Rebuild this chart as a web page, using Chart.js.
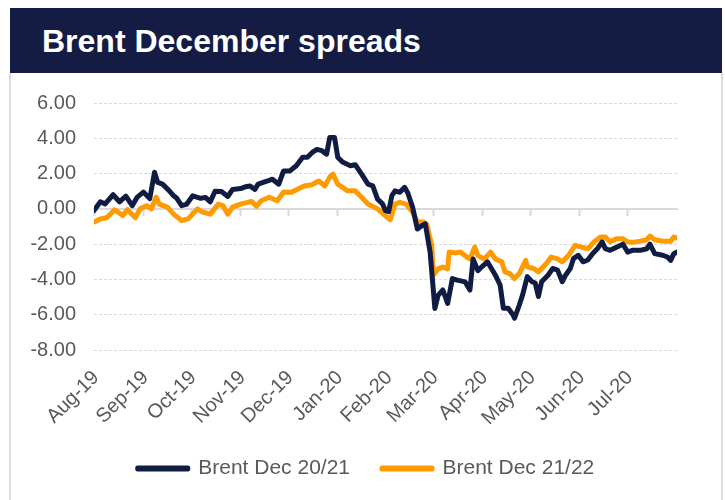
<!DOCTYPE html>
<html><head><meta charset="utf-8">
<script src="https://cdn.jsdelivr.net/npm/chart.js@4"></script>
<style>
body{margin:0;background:#fff;width:725px;height:500px;overflow:hidden;font-family:'Liberation Sans',Arial,sans-serif;}
#title{position:absolute;left:10px;top:8px;width:712px;height:65px;background:#141c44;color:#fff;font-weight:bold;font-size:32px;line-height:66px;box-sizing:border-box;padding-left:32px;}
#frame{position:absolute;left:9px;top:73px;width:714px;height:440px;border:2px solid #dcdcdc;border-top:none;box-sizing:border-box;}
#wrap{position:absolute;left:10px;top:73px;width:712px;height:427px;}
</style></head><body>
<div id="title">Brent December spreads</div>
<div id="frame"></div>
<div id="wrap"><canvas id="c" width="712" height="427"></canvas></div>
<script>
// Days counted from 1 Aug 2019
const monthStartDays = [0, 31, 61, 92, 122, 153, 184, 213, 244, 274, 305, 335];
const monthLabels = ['Aug-19','Sep-19','Oct-19','Nov-19','Dec-19','Jan-20','Feb-20','Mar-20','Apr-20','May-20','Jun-20','Jul-20'];
const yTickValues = [-8, -6, -4, -2, 0, 2, 4, 6];

const dec2021Days = [0,4,7,12,16,20,24,27,31,35,38,40,43,47,50,52,55,58,62,67,70,73,76,80,84,87,92,95,98,101,103,109,112,116,119,123,127,131,134,137,140,143,146,148,151,153,156,161,164,168,172,175,178,181,183,185,187,189,192,195,197,200,203,206,208,211,214,216,219,222,225,228,233,236,238,241,244,247,252,255,257,260,263,264,267,269,272,275,277,279,281,285,288,291,294,296,299,301,304,307,310,313,316,319,321,324,328,332,335,338,343,347,349,352,357,360,362,364,366];
const dec2021Values = [-0.1,0.4,0.28,0.8,0.4,0.72,0.18,0.65,0.95,0.58,2.07,1.5,1.4,1.05,0.74,0.6,0.18,0.25,0.74,0.6,0.65,0.4,1.0,0.98,0.7,1.1,1.15,1.25,1.3,1.1,1.4,1.58,1.68,1.4,2.15,2.15,2.44,2.93,2.93,3.2,3.37,3.3,3.1,4.05,4.05,2.93,2.65,2.44,2.5,1.97,1.4,1.3,0.55,0.3,-0.1,-0.15,0.75,1.02,0.94,1.22,0.9,0.1,-1.14,-0.94,-0.85,-2.45,-5.65,-4.9,-4.6,-5.36,-3.95,-4.04,-4.14,-4.6,-2.84,-3.5,-3.24,-3.0,-3.76,-4.33,-5.64,-5.64,-6.0,-6.2,-5.45,-4.9,-3.84,-4.13,-4.2,-4.97,-4.13,-3.76,-3.38,-3.47,-4.13,-3.76,-3.38,-2.82,-2.63,-3.0,-2.9,-2.54,-2.26,-1.87,-2.26,-2.35,-2.17,-2.0,-2.45,-2.35,-2.35,-2.26,-2.0,-2.54,-2.63,-2.73,-2.92,-2.54,-2.45];

const dec2122Days = [0,4,8,13,18,21,26,29,33,36,39,41,46,50,55,59,65,68,73,78,81,84,87,92,97,99,102,105,110,115,119,124,128,132,137,141,145,148,150,153,156,159,164,168,172,178,183,186,189,192,196,200,203,207,209,212,213,216,219,222,223,227,230,234,236,239,241,245,249,252,256,258,261,264,267,271,272,276,279,281,284,287,291,294,298,302,306,310,314,318,321,324,328,332,335,338,343,347,349,352,357,362,364,366];
const dec2122Values = [-0.75,-0.57,-0.5,-0.05,-0.38,-0.05,-0.5,0.0,0.18,0.0,0.66,0.27,0.1,-0.3,-0.66,-0.57,0.0,-0.18,-0.3,0.27,0.18,-0.3,0.1,0.27,0.38,0.42,0.15,0.46,0.66,0.46,0.96,0.94,1.12,1.3,1.37,1.58,1.3,1.8,1.97,1.4,1.22,1.02,1.02,0.66,0.28,0.0,-0.4,-0.62,0.27,0.37,0.27,-0.18,-0.75,-0.75,-0.9,-2.07,-3.76,-3.4,-3.3,-3.4,-2.45,-2.5,-2.45,-2.73,-2.84,-2.17,-2.65,-2.84,-2.45,-2.84,-3.0,-3.57,-3.67,-3.95,-3.67,-2.92,-3.29,-3.38,-3.57,-3.38,-3.1,-2.73,-2.84,-3.0,-2.63,-2.07,-2.17,-2.26,-1.87,-1.6,-1.6,-1.87,-1.7,-1.7,-1.87,-1.9,-1.83,-1.75,-1.54,-1.75,-1.83,-1.83,-1.6,-1.65];

const NAVY = '#111c45';
const ORANGE = '#ff9a00';
const TXT = '#595959';
const GRID = '#d9d9d9';
const FONT = "'Liberation Sans', Arial, sans-serif";

const pts = (d, v) => d.map((x, i) => ({x: x, y: v[i]}));
const monthTicks = s => { s.ticks = monthStartDays.map(v => ({value: v})); };

new Chart(document.getElementById('c'), {
  type: 'line',
  data: {
    datasets: [
      {label: 'Brent Dec 20/21', data: pts(dec2021Days, dec2021Values), borderColor: NAVY, backgroundColor: NAVY,
       borderWidth: 5, pointRadius: 0, tension: 0, borderJoinStyle: 'round', borderCapStyle: 'round', xAxisID: 'x', yAxisID: 'y'},
      {label: 'Brent Dec 21/22', data: pts(dec2122Days, dec2122Values), borderColor: ORANGE, backgroundColor: ORANGE,
       borderWidth: 5, pointRadius: 0, tension: 0, borderJoinStyle: 'round', borderCapStyle: 'round', xAxisID: 'x', yAxisID: 'y'}
    ]
  },
  options: {
    responsive: false,
    animation: false,
    layout: {padding: {left: 0, right: 0, top: 30, bottom: 11}},
    plugins: {
      legend: {position: 'bottom', labels: {boxWidth: 50, boxHeight: 1, padding: 32, color: TXT, font: {size: 21, family: FONT}}},
      tooltip: {enabled: false}
    },
    scales: {
      x: {
        type: 'linear', min: 0, max: 366, position: 'bottom',
        grid: {display: false, drawTicks: false}, border: {display: false},
        afterBuildTicks: monthTicks,
        afterFit: s => { s.height = 76; },
        ticks: {autoSkip: false, minRotation: 45, maxRotation: 45, padding: 16, labelOffset: 2, color: TXT, font: {size: 20, family: FONT},
                callback: (v, i) => monthLabels[i]}
      },
      x0: {
        type: 'linear', min: 0, max: 366, position: {y: 0},
        grid: {drawOnChartArea: false, drawTicks: true, tickLength: 6, tickWidth: 2, tickColor: GRID},
        border: {display: true, color: GRID, width: 2},
        ticks: {display: false},
        afterBuildTicks: monthTicks
      },
      y: {
        min: -8, max: 6,
        afterBuildTicks: s => { s.ticks = yTickValues.map(v => ({value: v})); },
        afterFit: s => { s.width = 84; },
        grid: {color: GRID, drawTicks: false, lineWidth: 1},
        border: {display: false, dash: [3, 2]},
        ticks: {padding: 18, color: TXT, font: {size: 20, family: FONT}, callback: v => v.toFixed(2)}
      },
      yR: {
        position: 'right', min: -8, max: 6,
        grid: {display: false, drawTicks: false}, border: {display: false}, ticks: {display: false},
        afterFit: s => { s.width = 45; }
      }
    }
  }
});
</script>
</body></html>
